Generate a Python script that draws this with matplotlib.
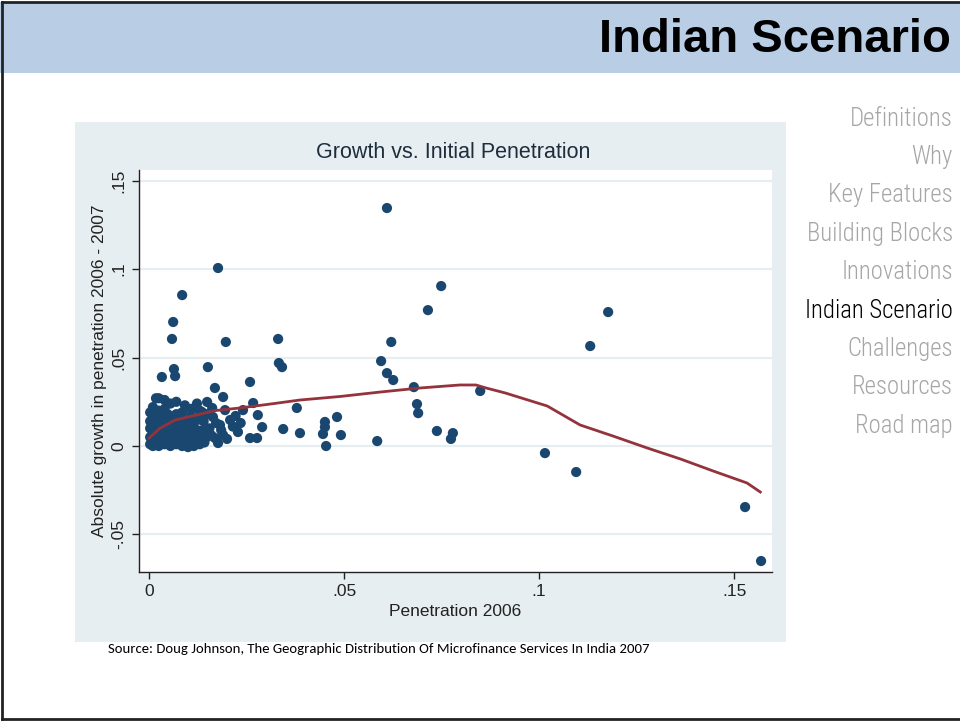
import matplotlib
matplotlib.use('Agg')
import matplotlib.pyplot as plt
from matplotlib.patches import Rectangle
from matplotlib.lines import Line2D
from matplotlib.ticker import FixedLocator

# ------------- data -------------- #
# dense cluster at low penetration
cluster_x = [0.0003] * 5 + [0.0010] * 6 + [0.0018] * 5 + [0.0025] * 6 + [0.0033] * 4 \
    + [0.0040] * 6 + [0.0048] * 4 + [0.0055] * 5 + [0.0062] * 3 + [0.0070] * 5 \
    + [0.0078] * 3 + [0.0085] * 4 + [0.0092] * 4 + [0.0100] * 3 + [0.0108] * 4 \
    + [0.0115] * 3 + [0.0123] * 3 + [0.0130] * 4
cluster_y = [0.001, 0.005, 0.010, 0.014, 0.019,
             0.000, 0.004, 0.008, 0.012, 0.017, 0.022,
             0.002, 0.006, 0.011, 0.015, 0.027,
             0.000, 0.004, 0.009, 0.013, 0.020, 0.027,
             0.002, 0.007, 0.012, 0.017,
             0.001, 0.005, 0.010, 0.015, 0.021, 0.026,
             0.003, 0.008, 0.013, 0.018,
             0.000, 0.006, 0.011, 0.016, 0.024,
             0.002, 0.009, 0.014,
             0.001, 0.005, 0.012, 0.018, 0.025,
             0.003, 0.008, 0.015,
             0.000, 0.006, 0.011, 0.019,
             0.004, 0.009, 0.014, 0.023,
             -0.0006, 0.007, 0.012,
             0.003, 0.010, 0.017, 0.021,
             0.000, 0.006, 0.013,
             0.004, 0.009, 0.024,
             0.001, 0.007, 0.015, 0.020]

# remaining districts
other_x = [0.0169, 0.0190, 0.0149, 0.0136, 0.0195, 0.0162, 0.0164, 0.0241, 0.0267,
           0.0279, 0.0290, 0.0228, 0.0259, 0.0277, 0.0169, 0.0190, 0.0138, 0.0149,
           0.0182, 0.0208, 0.0177, 0.0151, 0.0259,
           0.0142, 0.0155, 0.0160, 0.0172, 0.0185, 0.0200, 0.0215, 0.0222, 0.0235,
           0.0140, 0.0150,
           0.0177, 0.0085, 0.0062, 0.0059, 0.0197, 0.0064, 0.0067, 0.0033,
           0.0331, 0.0333, 0.0341, 0.0379, 0.0344, 0.0387,
           0.0482, 0.0492, 0.0451, 0.0451, 0.0446, 0.0454,
           0.0610, 0.0749, 0.0715, 0.0621, 0.0595, 0.0610, 0.0626, 0.0679, 0.0849,
           0.0687, 0.0690, 0.0738, 0.0779, 0.0774, 0.0585,
           0.1015, 0.1095, 0.1131, 0.1177, 0.1528, 0.1569]
other_y = [0.0328, 0.0277, 0.0249, 0.0192, 0.0203, 0.0215, 0.0164, 0.0203, 0.0243,
           0.0175, 0.0107, 0.0079, 0.0045, 0.0045, 0.0045, 0.0062, 0.0090, 0.0051,
           0.0119, 0.0147, 0.0017, 0.0446, 0.0362,
           0.0020, 0.0100, 0.0060, 0.0130, 0.0090, 0.0040, 0.0110, 0.0170, 0.0130,
           0.0140, 0.0180,
           0.1006, 0.0853, 0.0701, 0.0605, 0.0588, 0.0435, 0.0395, 0.0390,
           0.0605, 0.0469, 0.0446, 0.0215, 0.0096, 0.0073,
           0.0164, 0.0062, 0.0136, 0.0107, 0.0068, 0.0000,
           0.1345, 0.0904, 0.0768, 0.0588, 0.0480, 0.0412, 0.0373, 0.0333, 0.0311,
           0.0237, 0.0186, 0.0085, 0.0073, 0.0040, 0.0028,
           -0.0040, -0.0147, 0.0565, 0.0757, -0.0345, -0.0650]

# lowess fit
fit_x = [0.0, 0.0028, 0.0067, 0.0131, 0.0169, 0.0233, 0.0310, 0.0387, 0.0490, 0.0592,
         0.0695, 0.0797, 0.0838, 0.0864, 0.0913, 0.1021, 0.1105, 0.1190, 0.1277,
         0.1362, 0.1446, 0.1533, 0.1567]
fit_y = [0.0045, 0.0100, 0.0147, 0.0180, 0.0200, 0.0215, 0.0237, 0.0260, 0.0280, 0.0305,
         0.0328, 0.0345, 0.0345, 0.0328, 0.0300, 0.0226, 0.0119, 0.0056, -0.0011,
         -0.0073, -0.0141, -0.0209, -0.0260]

x_ticks = [0, 0.05, 0.1, 0.15]
x_ticklabels = ['0', '.05', '.1', '.15']
y_ticks = [-0.05, 0, 0.05, 0.1, 0.15]
y_ticklabels = ['-.05', '0', '.05', '.1', '.15']

menu = ['Definitions', 'Why', 'Key Features', 'Building Blocks', 'Innovations',
        'Indian Scenario', 'Challenges', 'Resources', 'Road map']
active = 'Indian Scenario'

# ------------- figure -------------- #
W, H = 960, 721
fig = plt.figure(figsize=(9.6, 7.21), dpi=100)
fig.patch.set_facecolor('white')


def fx(px):
    return px / W


def fy(py):
    return 1 - py / H


# header band and slide border
fig.patches.append(Rectangle((0, fy(73)), 1, fy(2) - fy(73), transform=fig.transFigure,
                             facecolor='#b9cde5', edgecolor='none', zorder=-2))
for xs, ys in [([fx(2), fx(2)], [fy(2), fy(719)]),
               ([fx(2), 1], [fy(2), fy(2)]),
               ([fx(2), 1], [fy(719), fy(719)])]:
    fig.lines.append(Line2D(xs, ys, transform=fig.transFigure, color='#222222', lw=2))

fig.text(fx(951), fy(40), 'Indian Scenario', ha='right', va='center',
         fontsize=34, fontweight='bold', family='Liberation Sans', color='black')

# side menu
for i, item in enumerate(menu):
    fig.text(fx(953), fy(118.5 + i * 38.4), item, ha='right', va='center',
             fontsize=17.8, family=['Roboto Condensed', 'Liberation Sans'], fontweight='light',
             color='black' if item == active else '#a6a6a6')

# stata graph region
fig.patches.append(Rectangle((fx(75), fy(642)), fx(786) - fx(75), fy(122) - fy(642),
                             transform=fig.transFigure, facecolor='#e7eef1',
                             edgecolor='none', zorder=-2))

ax = fig.add_axes([fx(139), fy(572), fx(772) - fx(139), fy(170) - fy(572)])
ax.set_facecolor('white')
ax.set_xlim(-0.00256, 0.1597)
ax.set_ylim(-0.0712, 0.156)

for t in y_ticks:
    ax.axhline(t, color='#e6eef1', lw=1.6, zorder=0)

ax.scatter(cluster_x + other_x, cluster_y + other_y, s=54, color='#1a476f',
           edgecolors='none', zorder=2)
ax.plot(fit_x, fit_y, color='#94333c', lw=2, zorder=3)

for side in ['top', 'right']:
    ax.spines[side].set_visible(False)
for side in ['left', 'bottom']:
    ax.spines[side].set_color('#222222')
    ax.spines[side].set_linewidth(1.0)

ax.xaxis.set_major_locator(FixedLocator(x_ticks))
ax.set_xticklabels(x_ticklabels, family='Liberation Sans', fontsize=12.5, color='#222222')
ax.yaxis.set_major_locator(FixedLocator(y_ticks))
ax.set_yticklabels(y_ticklabels, family='Liberation Sans', fontsize=12.5, color='#222222',
                   rotation=90, va='center')
ax.tick_params(direction='out', length=5, width=1, color='#222222', pad=4)

ax.set_xlabel('Penetration 2006', family='Liberation Sans', fontsize=12.5,
              color='#222222', labelpad=3)
ax.set_ylabel('Absolute growth in penetration 2006 - 2007', family='Liberation Sans',
              fontsize=12.5, color='#222222', labelpad=3)
fig.text(fx(453), fy(152), 'Growth vs. Initial Penetration', ha='center', va='center',
         family='Liberation Sans', fontsize=15.5, color='#1e2d3c')

fig.text(fx(108), fy(649), 'Source: Doug Johnson, The Geographic Distribution Of '
         'Microfinance Services In India 2007', ha='left', va='center',
         family=['Carlito', 'Lato'], fontsize=10.6, color='black')

fig.savefig('out.png', dpi=100)
